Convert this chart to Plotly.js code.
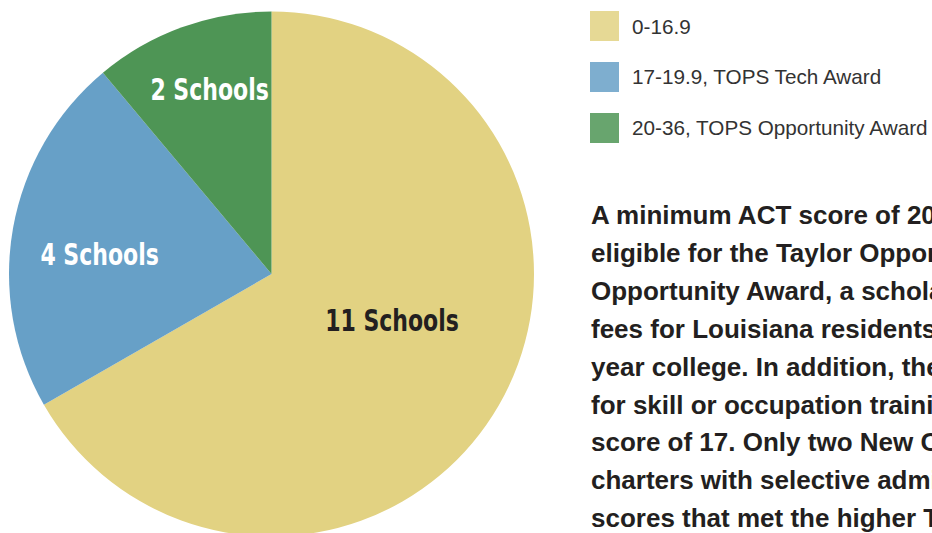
<!DOCTYPE html>
<html>
<head>
<meta charset="utf-8">
<script src="https://cdn.plot.ly/plotly-3.0.1.min.js"></script>
<style>
html,body{margin:0;padding:0;overflow:hidden;background:#fff;}
#chart{width:932px;height:560px;}
</style>
</head>
<body>
<div id="chart"></div>
<script>
// ---- data ----
var categories = ["0-16.9", "17-19.9, TOPS Tech Award", "20-36, TOPS Opportunity Award"];
var schoolCounts = [11, 4, 2];
var sliceShare = [66.7, 22.2, 11.1]; // share of circle
var sliceColors = ["#E2D282", "#67A0C7", "#4E9555"];
var labelColors = ["#231f20", "#ffffff", "#ffffff"];
var paragraphLines = [
  "A minimum ACT score of 20 is required to be",
  "eligible for the Taylor Opportunity Program",
  "Opportunity Award, a scholarship that covers",
  "fees for Louisiana residents attending a four-",
  "year college. In addition, the TOPS Tech Award",
  "for skill or occupation training requires a",
  "score of 17. Only two New Orleans schools,",
  "charters with selective admissions, had average",
  "scores that met the higher TOPS threshold."
];

var W = 932, H = 560;
function px(x){ return x / W; }
function py(y){ return 1 - y / H; }

var trace = {
  type: "pie",
  values: sliceShare,
  labels: categories,
  marker: {colors: sliceColors, line: {width: 0}},
  sort: false,
  direction: "clockwise",
  rotation: 0,
  textinfo: "none",
  hoverinfo: "label+value",
  showlegend: false,
  domain: {x: [px(9), px(534)], y: [py(536.5), py(11.5)]}
};

// slice label positions (pixel centres)
var labelPos = [[392, 320], [99, 255], [209, 89]];
var annotations = [];
var shapes = [];
for (var i = 0; i < categories.length; i++) {
  annotations.push({
    x: px(labelPos[i][0]), y: py(labelPos[i][1]), xref: "paper", yref: "paper",
    text: "<b>" + schoolCounts[i] + " Schools</b>", showarrow: false,
    xanchor: "center", yanchor: "middle",
    font: {family: "DejaVu Sans Condensed, DejaVu Sans, sans-serif", size: 30, color: labelColors[i]}
  });
  var rowTop = 11 + i * 51;
  shapes.push({
    type: "rect", xref: "paper", yref: "paper",
    x0: px(590), x1: px(619), y0: py(rowTop + 30), y1: py(rowTop),
    fillcolor: sliceColors[i], opacity: 0.85, line: {width: 0}
  });
  annotations.push({
    x: px(630), y: py(rowTop + 15), xref: "paper", yref: "paper",
    text: categories[i], showarrow: false, xanchor: "left", yanchor: "middle",
    font: {family: "Liberation Sans, Arial, sans-serif", size: 20.7, color: "#333333"}
  });
}
for (var j = 0; j < paragraphLines.length; j++) {
  annotations.push({
    x: px(589), y: py(215 + j * 37.9), xref: "paper", yref: "paper",
    text: "<b>" + paragraphLines[j] + "</b>", showarrow: false, xanchor: "left", yanchor: "middle",
    font: {family: "Liberation Sans, Arial, sans-serif", size: 26, color: "#231f20"}
  });
}

var layout = {
  width: W, height: H,
  margin: {l: 0, r: 0, t: 0, b: 0},
  paper_bgcolor: "#ffffff",
  showlegend: false,
  annotations: annotations,
  shapes: shapes
};
Plotly.newPlot("chart", [trace], layout, {displayModeBar: false, staticPlot: true}).then(function(){
  var texts = document.querySelectorAll(".annotation-text");
  for (var k = 0; k < categories.length * 2; k += 2) {
    var t = texts[k];
    if (!t) continue;
    t.style.fontStretch = "condensed";
    var len = t.getComputedTextLength();
    t.setAttribute("lengthAdjust", "spacingAndGlyphs");
    t.setAttribute("textLength", (len * 0.815).toFixed(1));
  }
});
</script>
</body>
</html>
